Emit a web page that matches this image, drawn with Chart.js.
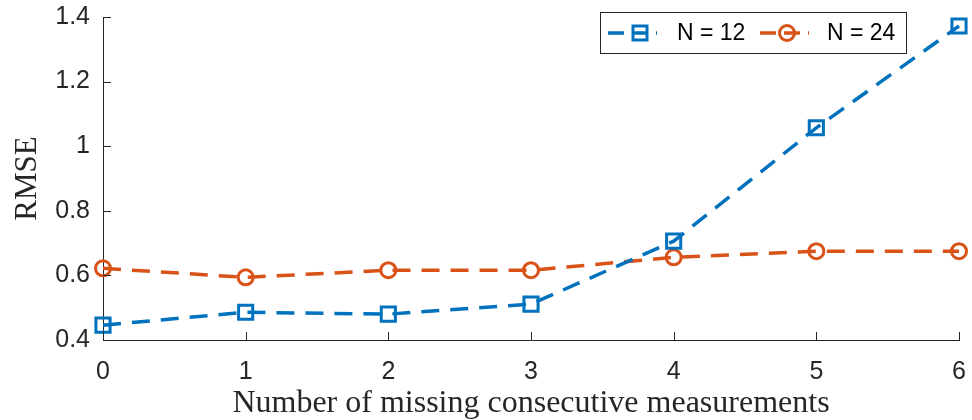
<!DOCTYPE html>
<html>
<head>
<meta charset="utf-8">
<script src="https://cdn.jsdelivr.net/npm/chart.js@4/dist/chart.umd.min.js"></script>
<style>
  html, body { margin: 0; padding: 0; background: #fff; }
  #wrap { width: 972px; height: 420px; position: relative; }
</style>
</head>
<body>
<div id="wrap"><canvas id="c" width="972" height="420"></canvas></div>
<script>
// data
const missing = [0, 1, 2, 3, 4, 5, 6];
const rmseN12 = [0.446, 0.486, 0.480, 0.511, 0.706, 1.057, 1.372];
const rmseN24 = [0.622, 0.594, 0.616, 0.616, 0.656, 0.675, 0.675];
const yTicks = [0.4, 0.6, 0.8, 1.0, 1.2, 1.4];
const seriesNames = ["N = 12", "N = 24"];

const blue = "#0072BD";
const orange = "#D95319";
const axisCol = "#262626";
const dash = [18, 11];

// inward tick marks + MATLAB-ish legend box
const matlabBits = {
  id: "matlabBits",
  afterDraw(chart) {
    const ctx = chart.ctx;
    const { left, bottom } = chart.chartArea;
    const xs = chart.scales.x, ys = chart.scales.y;
    ctx.save();
    ctx.strokeStyle = axisCol;
    ctx.lineWidth = 1;
    ctx.beginPath();
    missing.forEach(v => {
      const px = Math.round(xs.getPixelForValue(v)) + 0.5;
      ctx.moveTo(px, bottom); ctx.lineTo(px, bottom - 8);
    });
    yTicks.forEach(v => {
      const py = Math.round(ys.getPixelForValue(v)) + 0.5;
      ctx.moveTo(left, py); ctx.lineTo(left + 8, py);
    });
    ctx.stroke();

    // legend
    const bx = 600.5, by = 12.5, bw = 306, bh = 41;
    ctx.fillStyle = "#fff";
    ctx.fillRect(bx, by, bw, bh);
    ctx.strokeStyle = axisCol;
    ctx.strokeRect(bx, by, bw, bh);
    const cy = by + bh / 2;
    const items = [
      { x: 608, tx: 677, ds: chart.data.datasets[0] },
      { x: 760, tx: 827, ds: chart.data.datasets[1] }
    ];
    items.forEach((it, i) => {
      ctx.strokeStyle = it.ds.borderColor;
      ctx.lineWidth = 3.5;
      ctx.setLineDash([16, 8]);
      ctx.beginPath();
      ctx.moveTo(it.x, cy); ctx.lineTo(it.x + 49, cy);
      ctx.stroke();
      ctx.setLineDash([]);
      ctx.lineWidth = 3;
      if (it.ds.pointStyle === "rect") {
        const mx = it.x + 32;
        ctx.strokeRect(mx - 7, cy - 7, 14, 14);
      } else {
        const mx = it.x + 27;
        ctx.beginPath();
        ctx.arc(mx, cy, 7.5, 0, Math.PI * 2);
        ctx.stroke();
      }
      ctx.fillStyle = "#000";
      ctx.font = "23px 'Liberation Sans', Arial, sans-serif";
      ctx.textBaseline = "middle";
      ctx.textAlign = "left";
      ctx.fillText(seriesNames[i], it.tx, cy + 1);
    });
    ctx.restore();
  }
};

new Chart(document.getElementById("c"), {
  type: "line",
  data: {
    datasets: [
      {
        label: seriesNames[0],
        data: missing.map((x, i) => ({ x, y: rmseN12[i] })),
        borderColor: blue,
        backgroundColor: "rgba(255,255,255,0)",
        borderWidth: 3.5,
        borderDash: dash,
        pointStyle: "rect",
        pointRadius: 10,
        pointBorderWidth: 3,
        pointBorderColor: blue,
        pointBackgroundColor: "rgba(255,255,255,0)",
        tension: 0
      },
      {
        label: seriesNames[1],
        data: missing.map((x, i) => ({ x, y: rmseN24[i] })),
        borderColor: orange,
        backgroundColor: "rgba(255,255,255,0)",
        borderWidth: 3.5,
        borderDash: dash,
        pointStyle: "circle",
        pointRadius: 7.5,
        pointBorderWidth: 3,
        pointBorderColor: orange,
        pointBackgroundColor: "rgba(255,255,255,0)",
        tension: 0
      }
    ]
  },
  options: {
    responsive: false,
    animation: false,
    clip: false,
    layout: { padding: { top: 17, right: 11, left: 0, bottom: 0 } },
    plugins: {
      legend: { display: false },
      tooltip: { enabled: false }
    },
    scales: {
      x: {
        type: "linear",
        min: 0, max: 6,
        afterBuildTicks: s => { s.ticks = missing.map(v => ({ value: v })); },
        afterFit: s => { s.height = 80; s.paddingLeft = 0; s.paddingRight = 0; },
        border: { display: true, color: axisCol, width: 1 },
        grid: { display: false, drawTicks: false },
        ticks: {
          padding: 17,
          color: axisCol,
          font: { family: "'Liberation Sans', Arial, sans-serif", size: 25 },
          callback: v => String(v)
        },
        title: {
          display: true,
          text: "Number of missing consecutive measurements",
          color: axisCol,
          font: { family: "'Liberation Serif', 'Times New Roman', serif", size: 32, lineHeight: 1 },
          padding: { top: 0, bottom: 0 }
        }
      },
      y: {
        type: "linear",
        min: 0.4, max: 1.4,
        afterBuildTicks: s => { s.ticks = yTicks.map(v => ({ value: v })); },
        afterFit: s => { s.width = 103; s.paddingTop = 0; s.paddingBottom = 0; },
        border: { display: true, color: axisCol, width: 1 },
        grid: { display: false, drawTicks: false },
        ticks: {
          padding: 13,
          color: axisCol,
          font: { family: "'Liberation Sans', Arial, sans-serif", size: 25 },
          callback: v => String(Math.round(v * 10) / 10)
        },
        title: {
          display: true,
          text: "RMSE",
          color: axisCol,
          font: { family: "'Liberation Serif', 'Times New Roman', serif", size: 31, lineHeight: 1 },
          padding: { top: 12, bottom: 0 }
        }
      }
    }
  },
  plugins: [matlabBits]
});
</script>
</body>
</html>
